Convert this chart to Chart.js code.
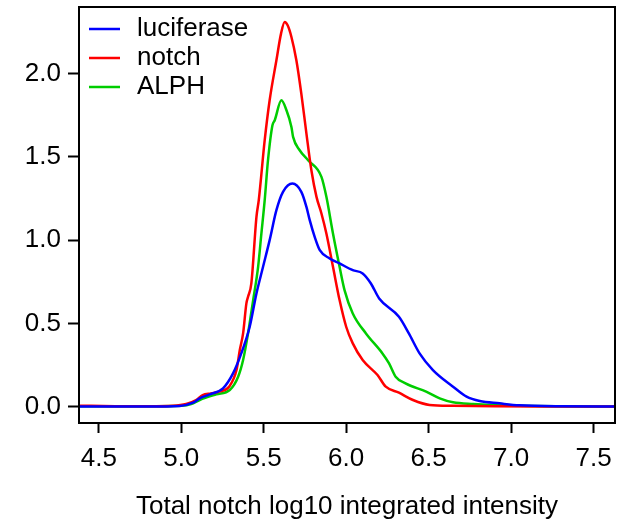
<!DOCTYPE html>
<html>
<head>
<meta charset="utf-8">
<script src="https://cdn.jsdelivr.net/npm/chart.js@4.4.1/dist/chart.umd.min.js"></script>
<style>
  html, body { margin: 0; padding: 0; background: #fff; }
  #wrap { width: 628px; height: 523px; }
</style>
</head>
<body>
<div id="wrap"><canvas id="densityChart" width="628" height="523"></canvas></div>
<script>
// density curves
const seriesNames = ['luciferase', 'notch', 'ALPH'];
const seriesColors = ['#0000FF', '#FF0000', '#00CD00'];

const lucX = [4.38, 4.8, 4.99, 5.071, 5.112, 5.173, 5.253, 5.314, 5.364, 5.415, 5.456, 5.496, 5.536, 5.577, 5.617, 5.674, 5.728, 5.759, 5.779, 5.809, 5.84, 5.90, 5.96, 6.04, 6.10, 6.15, 6.20, 6.32, 6.38, 6.445, 6.526, 6.648, 6.73, 6.81, 6.93, 7.05, 7.3, 7.63];
const lucY = [0.001, 0.001, 0.004, 0.024, 0.05, 0.074, 0.11, 0.20, 0.32, 0.48, 0.68, 0.84, 1.00, 1.18, 1.29, 1.34, 1.29, 1.20, 1.12, 1.02, 0.94, 0.89, 0.86, 0.82, 0.80, 0.74, 0.65, 0.54, 0.44, 0.32, 0.22, 0.12, 0.06, 0.034, 0.02, 0.008, 0.002, 0.001];

const notchX = [4.38, 4.6, 4.8, 4.95, 5.03, 5.09, 5.13, 5.18, 5.23, 5.29, 5.335, 5.355, 5.375, 5.395, 5.405, 5.425, 5.456, 5.47, 5.506, 5.536, 5.577, 5.605, 5.627, 5.645, 5.668, 5.698, 5.728, 5.759, 5.789, 5.82, 5.85, 5.88, 5.92, 5.96, 6.0, 6.04, 6.10, 6.19, 6.24, 6.32, 6.405, 6.506, 6.645, 6.9, 7.2, 7.63];
const notchY = [0.006, 0.003, 0.002, 0.005, 0.016, 0.04, 0.07, 0.08, 0.09, 0.12, 0.22, 0.34, 0.44, 0.62, 0.66, 0.74, 1.14, 1.24, 1.60, 1.84, 2.08, 2.24, 2.31, 2.29, 2.22, 2.08, 1.88, 1.64, 1.42, 1.26, 1.16, 1.04, 0.84, 0.64, 0.48, 0.38, 0.28, 0.19, 0.12, 0.084, 0.04, 0.01, 0.005, 0.002, 0.001, 0.001];

const alphX = [4.38, 4.8, 5.0, 5.06, 5.112, 5.213, 5.294, 5.345, 5.375, 5.405, 5.436, 5.466, 5.486, 5.506, 5.526, 5.553, 5.567, 5.607, 5.638, 5.668, 5.678, 5.718, 5.769, 5.85, 5.88, 5.92, 5.96, 5.99, 6.04, 6.12, 6.22, 6.26, 6.30, 6.36, 6.485, 6.567, 6.648, 6.77, 7.05, 7.63];
const alphY = [0.002, 0.002, 0.005, 0.015, 0.04, 0.074, 0.10, 0.18, 0.28, 0.44, 0.64, 0.84, 1.04, 1.24, 1.48, 1.69, 1.72, 1.84, 1.78, 1.68, 1.62, 1.54, 1.48, 1.38, 1.26, 1.04, 0.84, 0.70, 0.56, 0.44, 0.32, 0.26, 0.18, 0.14, 0.09, 0.05, 0.026, 0.016, 0.005, 0.001];

const xTicks = [4.5, 5.0, 5.5, 6.0, 6.5, 7.0, 7.5];
const yTicks = [0.0, 0.5, 1.0, 1.5, 2.0];
const xTitle = 'Total notch log10 integrated intensity';

const FONT = "'Liberation Sans', Arial, sans-serif";

function pts(xs, ys) {
  return xs.map((x, i) => ({ x: x, y: ys[i] }));
}

// R style box + legend inside the plot
const boxLegend = {
  id: 'boxLegend',
  afterDraw(chart) {
    const { ctx, chartArea: { left, top, right, bottom } } = chart;
    ctx.save();
    ctx.strokeStyle = '#000';
    ctx.lineWidth = 2;
    ctx.strokeRect(left, top, right - left, bottom - top);

    ctx.font = '26px ' + FONT;
    ctx.textBaseline = 'middle';
    ctx.fillStyle = '#000';
    chart.data.datasets.forEach((ds, i) => {
      const y = top + 22 + i * 29;
      ctx.beginPath();
      ctx.strokeStyle = ds.borderColor;
      ctx.lineWidth = 2.5;
      ctx.moveTo(left + 10, y);
      ctx.lineTo(left + 41, y);
      ctx.stroke();
      ctx.fillText(ds.label, left + 58, y);
    });
    ctx.restore();
  }
};

const chart = new Chart(document.getElementById('densityChart').getContext('2d'), {
  type: 'scatter',
  data: {
    datasets: [
      { label: seriesNames[0], data: pts(lucX, lucY), borderColor: seriesColors[0] },
      { label: seriesNames[1], data: pts(notchX, notchY), borderColor: seriesColors[1] },
      { label: seriesNames[2], data: pts(alphX, alphY), borderColor: seriesColors[2] }
    ]
  },
  options: {
    responsive: false,
    animation: false,
    devicePixelRatio: 1,
    layout: { padding: { left: 0, right: 13, top: 7, bottom: 0 } },
    elements: {
      point: { radius: 0 },
      line: { borderWidth: 2.5, cubicInterpolationMode: 'monotone', fill: false }
    },
    datasets: { scatter: { showLine: true } },
    plugins: {
      legend: { display: false },
      tooltip: { enabled: false }
    },
    scales: {
      x: {
        type: 'linear',
        min: 4.38,
        max: 7.63,
        afterFit(axis) {
          axis.height = 100;
          axis.paddingLeft = 0;
          axis.paddingRight = 0;
        },
        afterBuildTicks(axis) { axis.ticks = xTicks.map(v => ({ value: v })); },
        border: { display: false },
        grid: { drawOnChartArea: false, drawTicks: true, tickLength: 10, tickColor: '#000', tickWidth: 2 },
        ticks: {
          color: '#000',
          padding: 10,
          font: { family: FONT, size: 26 },
          callback: v => v.toFixed(1)
        },
        title: {
          display: true,
          text: xTitle,
          color: '#000',
          font: { family: FONT, size: 26 },
          padding: { top: 0, bottom: 1 }
        }
      },
      y: {
        type: 'linear',
        min: -0.098,
        max: 2.40,
        afterFit(axis) {
          axis.width = 79;
          axis.paddingTop = 0;
          axis.paddingBottom = 0;
        },
        afterBuildTicks(axis) { axis.ticks = yTicks.map(v => ({ value: v })); },
        border: { display: false },
        grid: { drawOnChartArea: false, drawTicks: true, tickLength: 11, tickColor: '#000', tickWidth: 2 },
        ticks: {
          color: '#000',
          padding: 7,
          font: { family: FONT, size: 26 },
          callback: v => v.toFixed(1)
        }
      }
    }
  },
  plugins: [boxLegend]
});
</script>
</body>
</html>
